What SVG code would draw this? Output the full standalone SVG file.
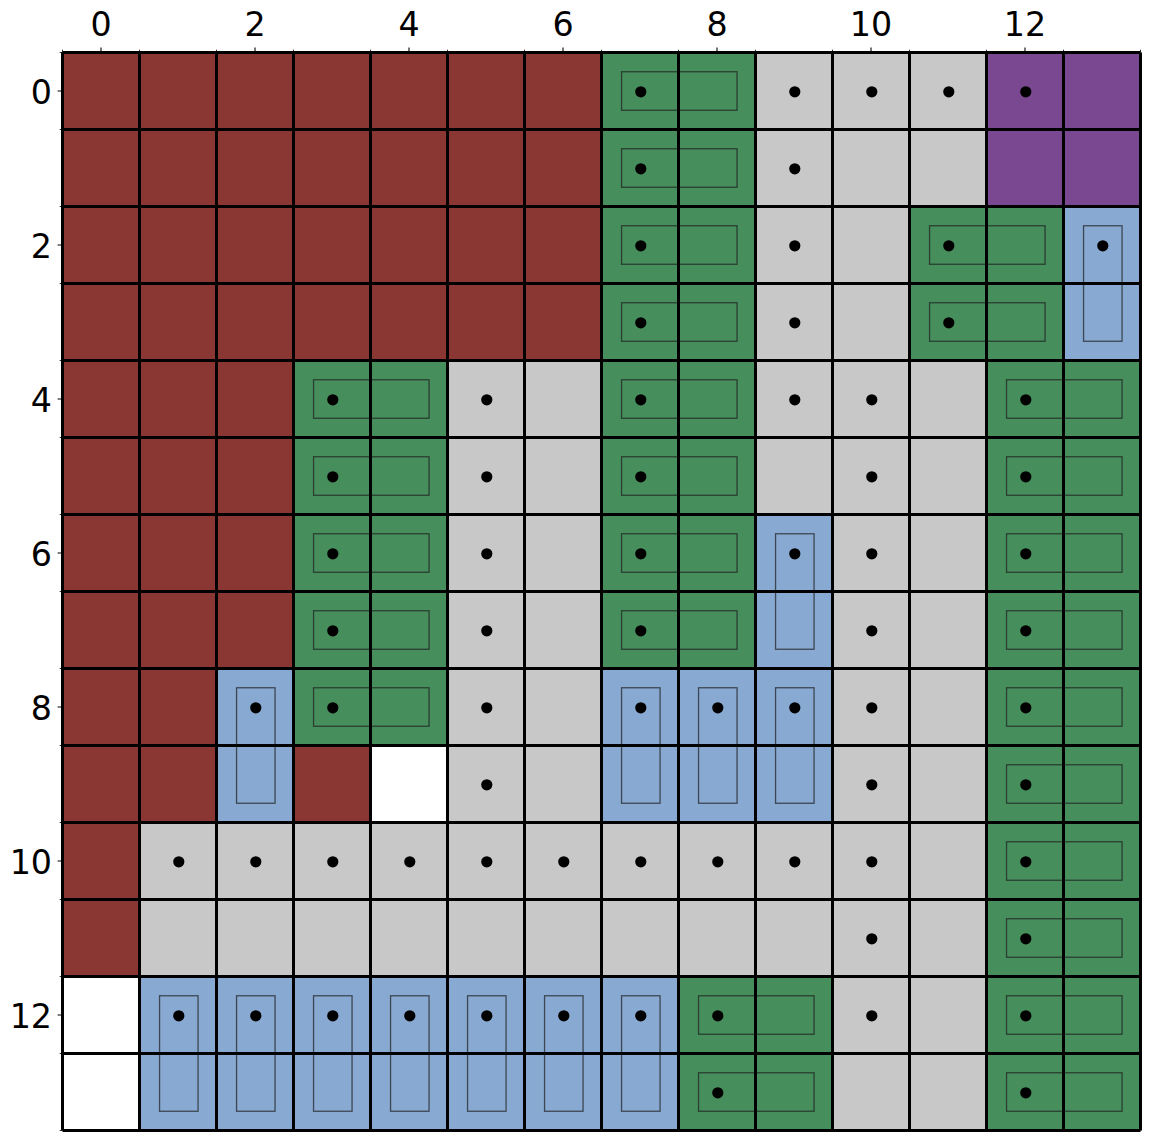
<svg xmlns="http://www.w3.org/2000/svg" width="1150" height="1140" viewBox="0 0 1150 1140">
<style>
.brown{fill:#8a3632}
.gray{fill:#c8c8c8}
.green{fill:#468e5c}
.blue{fill:#87a9d2}
.purple{fill:#7a4791}
.white{fill:#ffffff}
.inner{fill:none;stroke:#1e1e1e;stroke-opacity:0.7;stroke-width:1.3}
.grid{fill:none;stroke:#000;stroke-width:3}
.tick{stroke:#000;stroke-width:1.1}
.mtick{stroke:#000;stroke-width:0.8}
.lbl{font-family:"DejaVu Sans",sans-serif;font-size:33.3px;fill:#000}
.dot{fill:#000}
</style>
<rect x="0" y="0" width="1150" height="1140" fill="#fff"/>
<g id="cells">
<rect class="gray" x="62.5" y="52.5" width="1078" height="1078"/>
<g id="brown">
<rect class="brown" x="62.5" y="52.5" width="539" height="308"/>
<rect class="brown" x="62.5" y="360.5" width="231" height="308"/>
<rect class="brown" x="62.5" y="668.5" width="154" height="154"/>
<rect class="brown" x="293.5" y="745.5" width="77" height="77"/>
<rect class="brown" x="62.5" y="822.5" width="77" height="154"/>
</g>
<g id="purple">
<rect class="purple" x="986.5" y="52.5" width="154" height="154"/>
</g>
<g id="green">
<rect class="green" x="601.5" y="52.5" width="154" height="616"/>
<rect class="green" x="909.5" y="206.5" width="154" height="154"/>
<rect class="green" x="293.5" y="360.5" width="154" height="385"/>
<rect class="green" x="986.5" y="360.5" width="154" height="770"/>
<rect class="green" x="678.5" y="976.5" width="154" height="154"/>
</g>
<g id="blue">
<rect class="blue" x="1063.5" y="206.5" width="77" height="154"/>
<rect class="blue" x="755.5" y="514.5" width="77" height="154"/>
<rect class="blue" x="216.5" y="668.5" width="77" height="154"/>
<rect class="blue" x="601.5" y="668.5" width="231" height="154"/>
<rect class="blue" x="139.5" y="976.5" width="539" height="154"/>
</g>
<g id="white">
<rect class="white" x="370.5" y="745.5" width="77" height="77"/>
<rect class="white" x="62.5" y="976.5" width="77" height="154"/>
</g>
</g>
<g id="pieces" transform="translate(0.8,0)">
<g id="green-pieces">
<rect class="inner" x="620.75" y="71.75" width="115.5" height="38.5"/>
<rect class="inner" x="620.75" y="148.75" width="115.5" height="38.5"/>
<rect class="inner" x="620.75" y="225.75" width="115.5" height="38.5"/>
<rect class="inner" x="620.75" y="302.75" width="115.5" height="38.5"/>
<rect class="inner" x="620.75" y="379.75" width="115.5" height="38.5"/>
<rect class="inner" x="620.75" y="456.75" width="115.5" height="38.5"/>
<rect class="inner" x="620.75" y="533.75" width="115.5" height="38.5"/>
<rect class="inner" x="620.75" y="610.75" width="115.5" height="38.5"/>
<rect class="inner" x="928.75" y="225.75" width="115.5" height="38.5"/>
<rect class="inner" x="928.75" y="302.75" width="115.5" height="38.5"/>
<rect class="inner" x="312.75" y="379.75" width="115.5" height="38.5"/>
<rect class="inner" x="312.75" y="456.75" width="115.5" height="38.5"/>
<rect class="inner" x="312.75" y="533.75" width="115.5" height="38.5"/>
<rect class="inner" x="312.75" y="610.75" width="115.5" height="38.5"/>
<rect class="inner" x="312.75" y="687.75" width="115.5" height="38.5"/>
<rect class="inner" x="1005.75" y="379.75" width="115.5" height="38.5"/>
<rect class="inner" x="1005.75" y="456.75" width="115.5" height="38.5"/>
<rect class="inner" x="1005.75" y="533.75" width="115.5" height="38.5"/>
<rect class="inner" x="1005.75" y="610.75" width="115.5" height="38.5"/>
<rect class="inner" x="1005.75" y="687.75" width="115.5" height="38.5"/>
<rect class="inner" x="1005.75" y="764.75" width="115.5" height="38.5"/>
<rect class="inner" x="1005.75" y="841.75" width="115.5" height="38.5"/>
<rect class="inner" x="1005.75" y="918.75" width="115.5" height="38.5"/>
<rect class="inner" x="1005.75" y="995.75" width="115.5" height="38.5"/>
<rect class="inner" x="1005.75" y="1072.75" width="115.5" height="38.5"/>
<rect class="inner" x="697.75" y="995.75" width="115.5" height="38.5"/>
<rect class="inner" x="697.75" y="1072.75" width="115.5" height="38.5"/>
</g>
<g id="blue-pieces">
<rect class="inner" x="1082.75" y="225.75" width="38.5" height="115.5"/>
<rect class="inner" x="774.75" y="533.75" width="38.5" height="115.5"/>
<rect class="inner" x="235.75" y="687.75" width="38.5" height="115.5"/>
<rect class="inner" x="620.75" y="687.75" width="38.5" height="115.5"/>
<rect class="inner" x="697.75" y="687.75" width="38.5" height="115.5"/>
<rect class="inner" x="774.75" y="687.75" width="38.5" height="115.5"/>
<rect class="inner" x="158.75" y="995.75" width="38.5" height="115.5"/>
<rect class="inner" x="235.75" y="995.75" width="38.5" height="115.5"/>
<rect class="inner" x="312.75" y="995.75" width="38.5" height="115.5"/>
<rect class="inner" x="389.75" y="995.75" width="38.5" height="115.5"/>
<rect class="inner" x="466.75" y="995.75" width="38.5" height="115.5"/>
<rect class="inner" x="543.75" y="995.75" width="38.5" height="115.5"/>
<rect class="inner" x="620.75" y="995.75" width="38.5" height="115.5"/>
</g>
</g>
<g id="connectors">
<path class="grid" d="M62.5 52.5V1130.5M139.5 52.5V1130.5M216.5 52.5V1130.5M293.5 52.5V1130.5M370.5 52.5V1130.5M447.5 52.5V1130.5M524.5 52.5V1130.5M601.5 52.5V1130.5M678.5 52.5V1130.5M755.5 52.5V1130.5M832.5 52.5V1130.5M909.5 52.5V1130.5M986.5 52.5V1130.5M1063.5 52.5V1130.5M1140.5 52.5V1130.5M62.5 52.5H1140.5M62.5 129.5H1140.5M62.5 206.5H1140.5M62.5 283.5H1140.5M62.5 360.5H1140.5M62.5 437.5H1140.5M62.5 514.5H1140.5M62.5 591.5H1140.5M62.5 668.5H1140.5M62.5 745.5H1140.5M62.5 822.5H1140.5M62.5 899.5H1140.5M62.5 976.5H1140.5M62.5 1053.5H1140.5M62.5 1130.5H1140.5"/>
</g>
<g id="dots" transform="translate(0.8,0.8)">
<circle class="dot" cx="640" cy="91" r="5.6"/><circle class="dot" cx="640" cy="168" r="5.6"/><circle class="dot" cx="640" cy="245" r="5.6"/><circle class="dot" cx="640" cy="322" r="5.6"/><circle class="dot" cx="640" cy="399" r="5.6"/><circle class="dot" cx="640" cy="476" r="5.6"/><circle class="dot" cx="640" cy="553" r="5.6"/><circle class="dot" cx="640" cy="630" r="5.6"/>
<circle class="dot" cx="948" cy="245" r="5.6"/><circle class="dot" cx="948" cy="322" r="5.6"/>
<circle class="dot" cx="332" cy="399" r="5.6"/><circle class="dot" cx="332" cy="476" r="5.6"/><circle class="dot" cx="332" cy="553" r="5.6"/><circle class="dot" cx="332" cy="630" r="5.6"/><circle class="dot" cx="332" cy="707" r="5.6"/>
<circle class="dot" cx="1025" cy="399" r="5.6"/><circle class="dot" cx="1025" cy="476" r="5.6"/><circle class="dot" cx="1025" cy="553" r="5.6"/><circle class="dot" cx="1025" cy="630" r="5.6"/><circle class="dot" cx="1025" cy="707" r="5.6"/><circle class="dot" cx="1025" cy="784" r="5.6"/><circle class="dot" cx="1025" cy="861" r="5.6"/><circle class="dot" cx="1025" cy="938" r="5.6"/><circle class="dot" cx="1025" cy="1015" r="5.6"/><circle class="dot" cx="1025" cy="1092" r="5.6"/>
<circle class="dot" cx="717" cy="1015" r="5.6"/><circle class="dot" cx="717" cy="1092" r="5.6"/>
<circle class="dot" cx="1102" cy="245" r="5.6"/><circle class="dot" cx="794" cy="553" r="5.6"/><circle class="dot" cx="255" cy="707" r="5.6"/><circle class="dot" cx="640" cy="707" r="5.6"/><circle class="dot" cx="717" cy="707" r="5.6"/><circle class="dot" cx="794" cy="707" r="5.6"/>
<circle class="dot" cx="178" cy="1015" r="5.6"/><circle class="dot" cx="255" cy="1015" r="5.6"/><circle class="dot" cx="332" cy="1015" r="5.6"/><circle class="dot" cx="409" cy="1015" r="5.6"/><circle class="dot" cx="486" cy="1015" r="5.6"/><circle class="dot" cx="563" cy="1015" r="5.6"/><circle class="dot" cx="640" cy="1015" r="5.6"/>
<circle class="dot" cx="1025" cy="91" r="5.6"/>
<circle class="dot" cx="794" cy="91" r="5.6"/><circle class="dot" cx="871" cy="91" r="5.6"/><circle class="dot" cx="948" cy="91" r="5.6"/>
<circle class="dot" cx="794" cy="168" r="5.6"/><circle class="dot" cx="794" cy="245" r="5.6"/><circle class="dot" cx="794" cy="322" r="5.6"/>
<circle class="dot" cx="486" cy="399" r="5.6"/><circle class="dot" cx="794" cy="399" r="5.6"/><circle class="dot" cx="871" cy="399" r="5.6"/>
<circle class="dot" cx="486" cy="476" r="5.6"/><circle class="dot" cx="871" cy="476" r="5.6"/>
<circle class="dot" cx="486" cy="553" r="5.6"/><circle class="dot" cx="871" cy="553" r="5.6"/>
<circle class="dot" cx="486" cy="630" r="5.6"/><circle class="dot" cx="871" cy="630" r="5.6"/>
<circle class="dot" cx="486" cy="707" r="5.6"/><circle class="dot" cx="871" cy="707" r="5.6"/>
<circle class="dot" cx="486" cy="784" r="5.6"/><circle class="dot" cx="871" cy="784" r="5.6"/>
<circle class="dot" cx="178" cy="861" r="5.6"/><circle class="dot" cx="255" cy="861" r="5.6"/><circle class="dot" cx="332" cy="861" r="5.6"/><circle class="dot" cx="409" cy="861" r="5.6"/><circle class="dot" cx="486" cy="861" r="5.6"/><circle class="dot" cx="563" cy="861" r="5.6"/><circle class="dot" cx="640" cy="861" r="5.6"/><circle class="dot" cx="717" cy="861" r="5.6"/><circle class="dot" cx="794" cy="861" r="5.6"/><circle class="dot" cx="871" cy="861" r="5.6"/>
<circle class="dot" cx="871" cy="938" r="5.6"/><circle class="dot" cx="871" cy="1015" r="5.6"/>
</g>
<g id="ticks">
<path class="tick" d="M101 52.5V47.6M255 52.5V47.6M409 52.5V47.6M563 52.5V47.6M717 52.5V47.6M871 52.5V47.6M1025 52.5V47.6M62.5 91H57.6M62.5 245H57.6M62.5 399H57.6M62.5 553H57.6M62.5 707H57.6M62.5 861H57.6M62.5 1015H57.6"/>
<path class="mtick" d="M62.5 52.5V49.7M139.5 52.5V49.7M216.5 52.5V49.7M293.5 52.5V49.7M370.5 52.5V49.7M447.5 52.5V49.7M524.5 52.5V49.7M601.5 52.5V49.7M678.5 52.5V49.7M755.5 52.5V49.7M832.5 52.5V49.7M909.5 52.5V49.7M986.5 52.5V49.7M1063.5 52.5V49.7M1140.5 52.5V49.7M62.5 52.5H59.7M62.5 129.5H59.7M62.5 206.5H59.7M62.5 283.5H59.7M62.5 360.5H59.7M62.5 437.5H59.7M62.5 514.5H59.7M62.5 591.5H59.7M62.5 668.5H59.7M62.5 745.5H59.7M62.5 822.5H59.7M62.5 899.5H59.7M62.5 976.5H59.7M62.5 1053.5H59.7M62.5 1130.5H59.7"/>
</g>
<g id="labels">
<text class="lbl" x="101" y="36" text-anchor="middle">0</text>
<text class="lbl" x="255" y="36" text-anchor="middle">2</text>
<text class="lbl" x="409" y="36" text-anchor="middle">4</text>
<text class="lbl" x="563" y="36" text-anchor="middle">6</text>
<text class="lbl" x="717" y="36" text-anchor="middle">8</text>
<text class="lbl" x="871" y="36" text-anchor="middle">10</text>
<text class="lbl" x="1025" y="36" text-anchor="middle">12</text>
<text class="lbl" x="52" y="103.5" text-anchor="end">0</text>
<text class="lbl" x="52" y="257.5" text-anchor="end">2</text>
<text class="lbl" x="52" y="411.5" text-anchor="end">4</text>
<text class="lbl" x="52" y="565.5" text-anchor="end">6</text>
<text class="lbl" x="52" y="719.5" text-anchor="end">8</text>
<text class="lbl" x="52" y="873.5" text-anchor="end">10</text>
<text class="lbl" x="52" y="1027.5" text-anchor="end">12</text>
</g>
</svg>
